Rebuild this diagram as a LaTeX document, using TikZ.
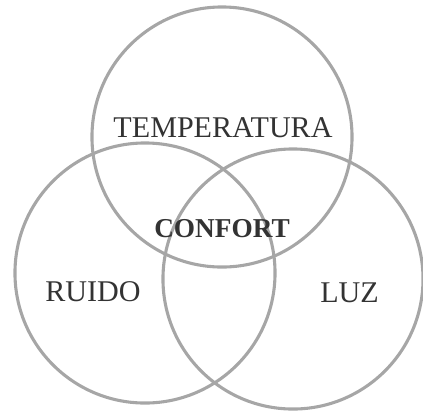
\documentclass[tikz,border=0pt]{standalone}
\usepackage{fontspec}
\setmainfont{Liberation Serif}
\usetikzlibrary{positioning}
\definecolor{ringgray}{HTML}{A6A6A6}
\definecolor{txtgray}{HTML}{333333}
\begin{document}
\begin{tikzpicture}[x=0.025cm,y=-0.025cm,
ring/.style={circle,draw=ringgray,line width=2.2pt,minimum size=6.5cm,inner sep=0pt},
lbl/.style={text=txtgray,font=\fontsize{21.4}{24}\selectfont,inner sep=0pt}]
\useasboundingbox (0,0) rectangle (423,410);
\node[ring] (T) at (222,137) {};
\node[ring] (L) at (145,273) {};
\node[ring] (R) at (293,279) {};
\node[lbl] (temp) at (223,128) {TEMPERATURA};
\node[lbl] (ruido) at (93,292) {RUIDO};
\node[lbl] (luz) at (349.5,293) {LUZ};
\node[lbl,font=\fontsize{19.4}{21}\selectfont\bfseries] (conf) at (222,229) {CONFORT};
\end{tikzpicture}
\end{document}
